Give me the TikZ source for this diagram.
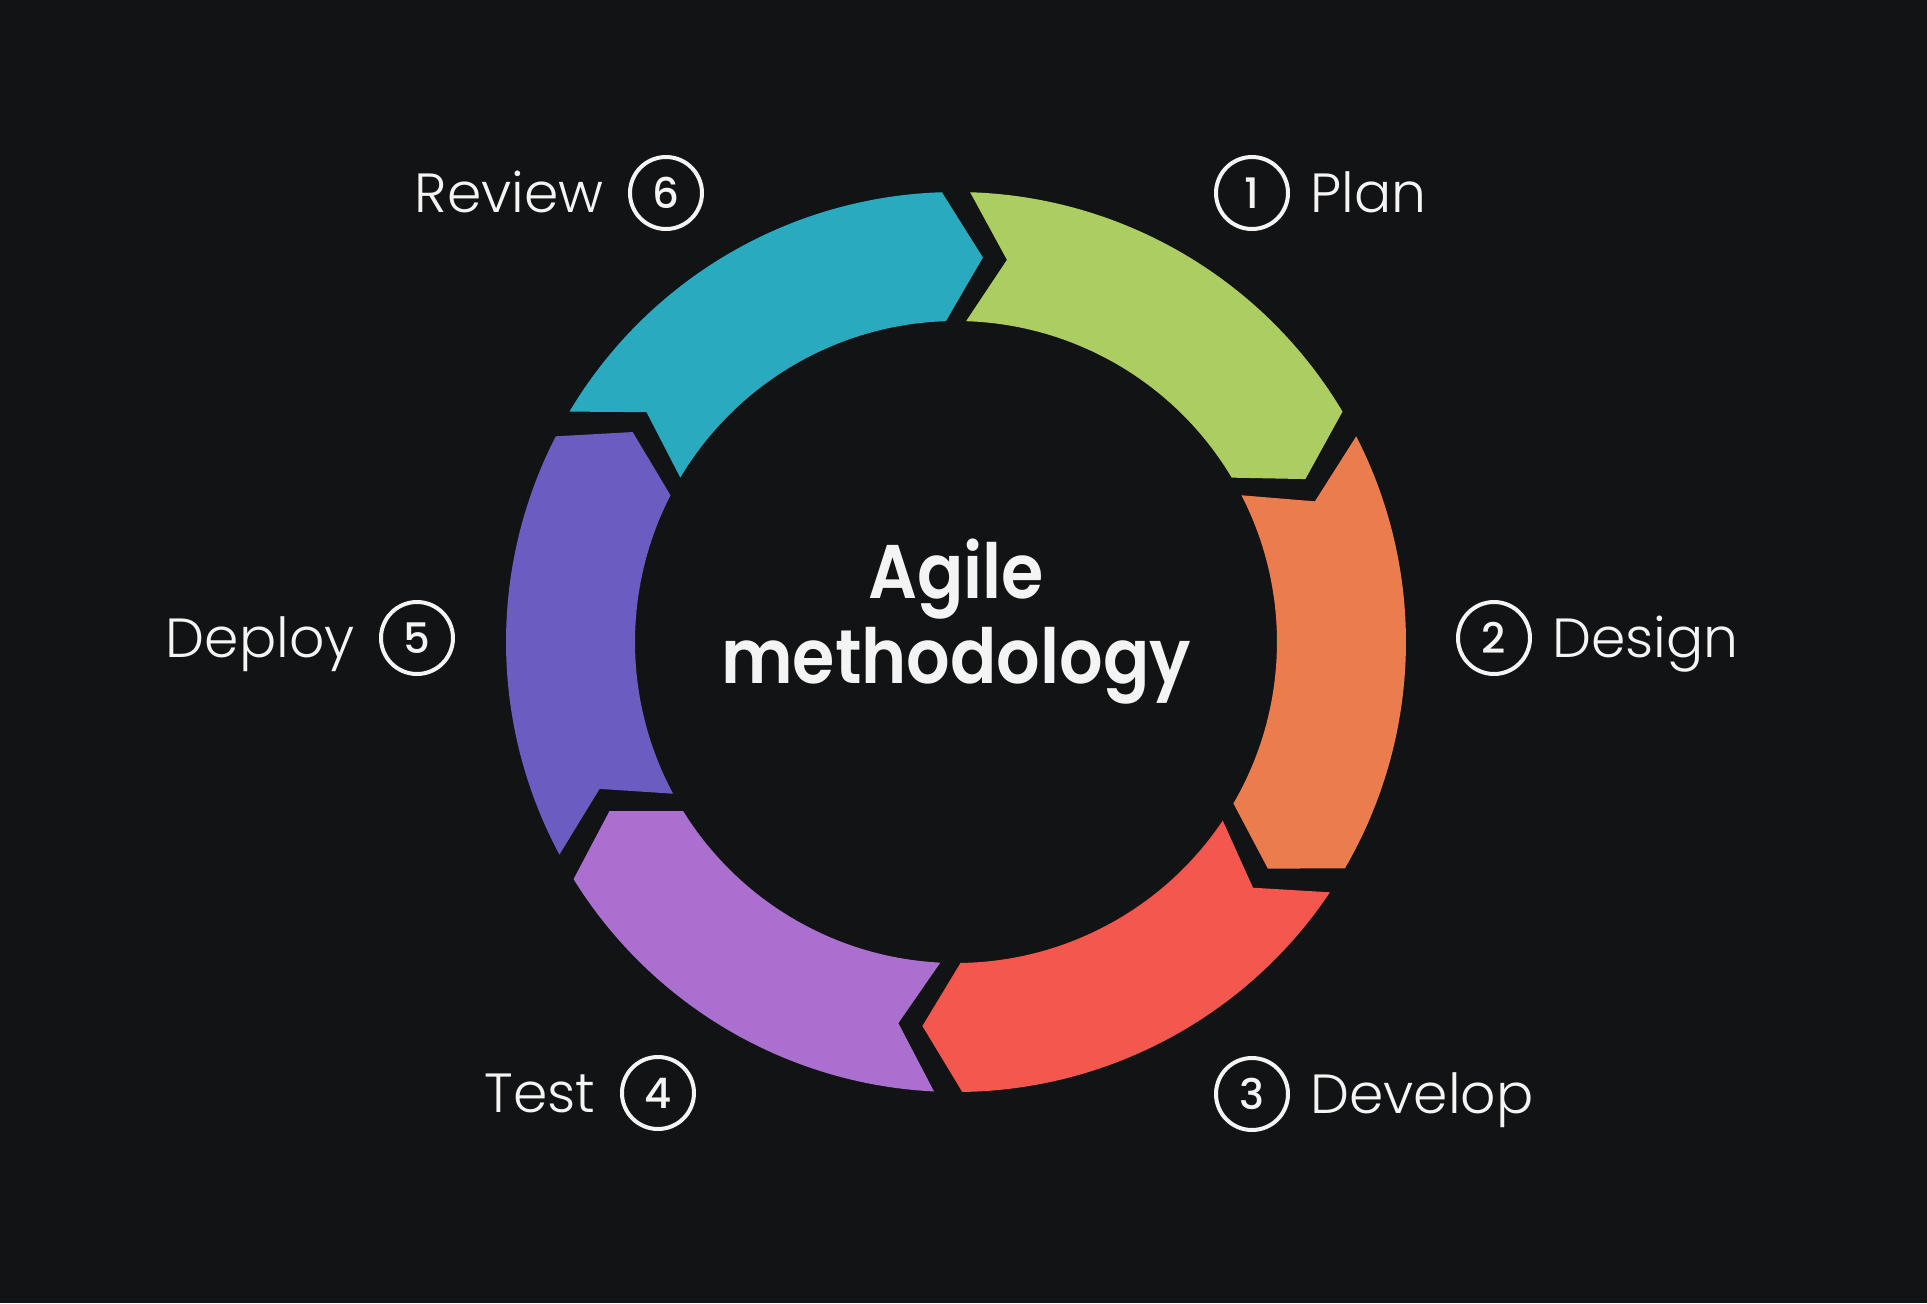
\documentclass[tikz,border=0pt]{standalone}
\usepackage{fontspec}
\setmainfont{Poppins}[UprightFont={* Light}, BoldFont={* SemiBold}]
\newfontfamily\numfont{Poppins}[UprightFont={* Medium}]
\newfontfamily\ttlfont{Poppins}[UprightFont={* SemiBold}, FakeStretch=0.9]
\usepackage{tikz}
\usetikzlibrary{positioning}
\definecolor{bgc}{HTML}{121314}
\definecolor{txtc}{HTML}{F4F4F4}
\definecolor{planc}{HTML}{ACCD62}
\definecolor{designc}{HTML}{EA7C4E}
\definecolor{developc}{HTML}{F4574E}
\definecolor{testc}{HTML}{AB6FD0}
\definecolor{deployc}{HTML}{6A5CC0}
\definecolor{reviewc}{HTML}{2AAABF}

\begin{document}
\begin{tikzpicture}[
  x=0.5pt, y=0.5pt,
  node distance=10pt,
  numc/.style={draw=txtc, line width=2pt, circle, minimum size=36pt, inner sep=0pt, text=txtc, font=\numfont\fontsize{21}{24}\selectfont},
  lbl/.style={text=txtc, inner sep=0pt, text height=19.5pt, text depth=0pt, font=\fontsize{27.6}{33}\selectfont},
  ttl/.style={text=txtc, inner sep=0pt, anchor=base, font=\ttlfont\fontsize{38}{46}\selectfont}]
  \fill[bgc] (-956,-661) rectangle (971,642);
  % ring of six arrows, clockwise from the top
  \foreach \a/\b/\col in {90/29/planc, 29/-32/designc, -32/-91/developc, -91/-150/testc, -150/-209/deployc, -209/-270/reviewc}
    \fill[\col] ({\a-1.8}:450) arc[start angle=\a-1.8, end angle=\b+1.8, radius=450]
      -- ({\b-4}:385.5) -- ({\b+1.8}:321)
      arc[start angle=\b+1.8, end angle=\a-1.8, radius=321]
      -- ({\a-7.6}:385.5) -- cycle;
  \node[ttl] (agile) at (0,44) {Agile};
  \node[ttl] (meth) at (0,-41) {methodology};
  % step labels
  \node[numc] (n1) at (296,449) {1};
  \node[lbl, right=of n1] (plan) {Plan};
  \node[numc] (n2) at (538,4) {2};
  \node[lbl, right=of n2] (design) {Design};
  \node[numc] (n3) at (296,-452) {3};
  \node[lbl, right=of n3] (develop) {Develop};
  \node[numc] (n4) at (-298,-451) {4};
  \node[lbl, left=12pt of n4] (test) {Test};
  \node[numc] (n5) at (-539,4) {5};
  \node[lbl, left=12pt of n5] (deploy) {Deploy};
  \node[numc] (n6) at (-290,449) {6};
  \node[lbl, left=12pt of n6] (review) {Review};
\end{tikzpicture}
\end{document}
